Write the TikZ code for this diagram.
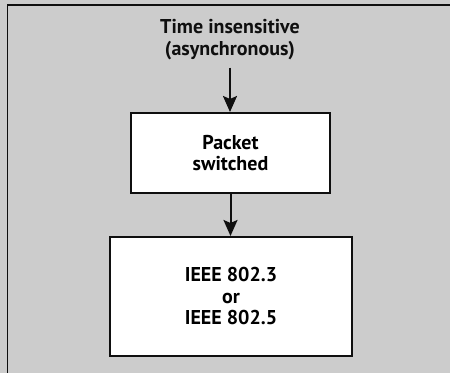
\documentclass[tikz,border=0pt]{standalone}
\usepackage{fontspec}
\setmainfont{PT Sans}
\usepackage{tikz}
\usetikzlibrary{arrows.meta}
\definecolor{paper}{RGB}{204,204,204}
\definecolor{ink}{RGB}{15,15,15}
\tikzset{
  box/.style={rectangle, draw=ink, fill=white, align=center,
    font=\bfseries\fontsize{10}{10.75}\selectfont, line width=1pt},
  caption/.style={align=center, inner xsep=2pt, inner ysep=3.5pt,
    font=\bfseries\fontsize{10}{11}\selectfont, text=ink},
  arrow/.style={-{Stealth[length=8pt, width=7pt, inset=1.5pt]}, line width=1pt, color=ink},
  frame/.style={line width=0.8pt, color=ink}
}

\begin{document}
\begin{tikzpicture}[x=0.5pt, y=-0.5pt]
  % Page and frame
  \useasboundingbox (0,0) rectangle (450,373);
  \fill[paper] (0,0) rectangle (450,373);
  \draw[frame] (7.5,373) -- (7.5,5) -- (450,5);

  % Boxes
  \node[caption] (timeins) at (230,40) {Time insensitive\\(asynchronous)};
  \node[box, minimum width=99.5pt, minimum height=40pt] (packet) at (230.5,153) {Packet\\switched};
  \node[box, minimum width=121pt, minimum height=59.5pt] (ieee) at (231,296.5) {IEEE 802.3\\or\\IEEE 802.5};

  % Arrows
  \draw[arrow] (timeins.south) -- (timeins.south |- packet.north);
  \draw[arrow] (packet.south) -- (packet.south |- ieee.north);
\end{tikzpicture}
\end{document}
